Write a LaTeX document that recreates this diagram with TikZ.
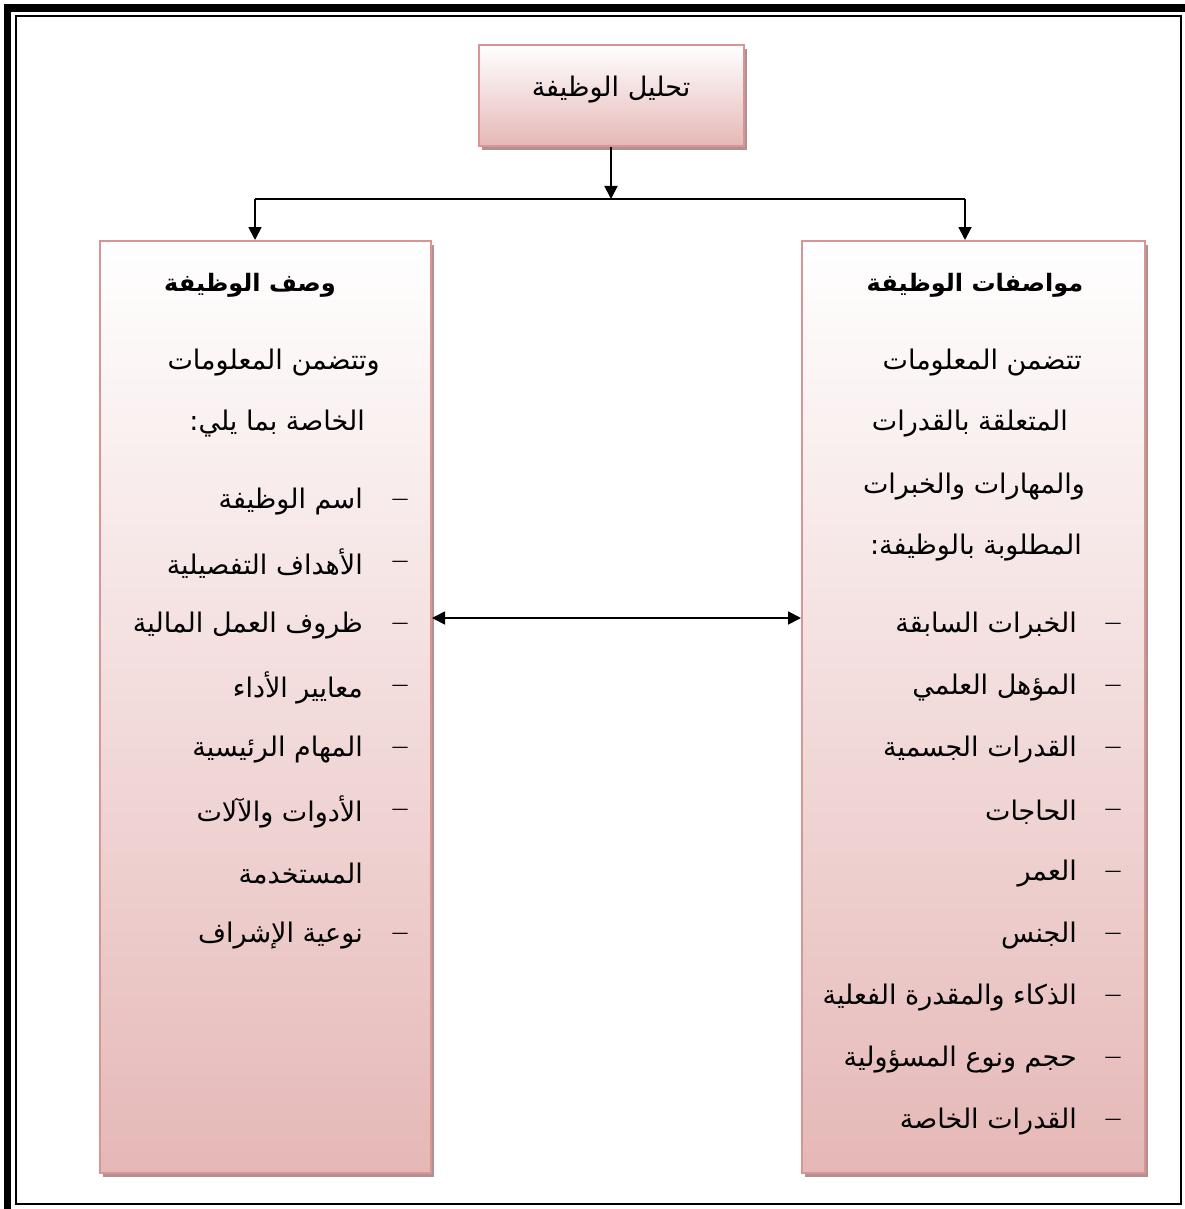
\documentclass[tikz,border=0pt]{standalone}
\usepackage{fontspec}
\TeXXeTstate=1
\newfontfamily\arabicfont[Script=Arabic]{DejaVu Sans}
\usetikzlibrary{arrows.meta,shadows}
\definecolor{pinkbot}{RGB}{229,184,183}
\definecolor{pinkline}{RGB}{217,149,148}
\definecolor{shadowcol}{RGB}{176,144,144}
\tikzset{
  box/.style={draw=pinkline, line width=2pt, top color=white, bottom color=pinkbot,
    inner sep=0pt, drop shadow={shadow xshift=3pt, shadow yshift=-4pt, fill=shadowcol, opacity=1}},
  conn/.style={line width=1.8pt, black},
  tip/.style={-{Triangle[width=13pt,length=13pt]}},
  txt/.style={font=\arabicfont\fontsize{27}{31}\selectfont, inner sep=0pt},
  ttl/.style={font=\arabicfont\bfseries\fontsize{24}{28}\selectfont, inner sep=0pt},
  dsh/.style={font=\arabicfont\fontsize{17}{20}\selectfont, inner sep=0pt}
}
\begin{document}
\begin{tikzpicture}[x=1pt,y=-1pt]
\useasboundingbox (0,0) rectangle (1184,1209);
\fill[white] (0,0) rectangle (1184,1209);
% page frame
\draw[line width=7.5pt] (7.5,8) rectangle (1300,1300);
\draw[line width=2pt] (16,16.5) rectangle (1180.5,1204);
% boxes
\node[box, minimum width=265pt, minimum height=101pt] (top) at (611,95.5) {};
\node[txt] (toptxt) at (611,90) {\beginR تحليل الوظيفة\endR};
\node[box, minimum width=331pt, minimum height=932pt] (lb) at (265.5,707) {};
\node[box, minimum width=343pt, minimum height=932pt] (rb) at (973.5,707) {};
% connectors
\coordinate (j) at (611,199);
\coordinate (jl) at (255,199);
\coordinate (jr) at (965,199);
\coordinate (m) at (616,618);
\draw[conn,tip] (top.south) -- (j);
\draw[conn] (jl) -- (jr);
\draw[conn,tip] (jl) -- (jl |- lb.north);
\draw[conn,tip] (jr) -- (jr |- rb.north);
\draw[conn,{Triangle[width=13pt,length=13pt]}-{Triangle[width=13pt,length=13pt]}] (lb.east |- m) -- (rb.west |- m);
% left box text
\node[ttl] (lt) at (250,285) {\beginR وصف الوظيفة\endR};
\node[txt, anchor=east] (l1) at (380,363) {\beginR وتتضمن المعلومات\endR};
\node[txt, anchor=east] (l2) at (365,424) {\beginR الخاصة بما يلي:\endR};
\node[txt, anchor=east] (l3) at (363,502) {\beginR اسم الوظيفة\endR};
\node[txt, anchor=east] (l4) at (363,564) {\beginR الأهداف التفصيلية\endR};
\node[txt, anchor=east] (l5) at (363,626) {\beginR ظروف العمل المالية\endR};
\node[txt, anchor=east] (l6) at (363,688) {\beginR معايير الأداء\endR};
\node[txt, anchor=east] (l7) at (363,750) {\beginR المهام الرئيسية\endR};
\node[txt, anchor=east] (l8) at (363,812) {\beginR الأدوات والآلات\endR};
\node[txt, anchor=east] (l9) at (363,874) {\beginR المستخدمة\endR};
\node[txt, anchor=east] (l10) at (363,936) {\beginR نوعية الإشراف\endR};
\foreach \y/\n in {502/a,564/b,626/c,688/d,750/e,812/f,936/g}
  \node[dsh] (ld\n) at (400,\y) {—};
% right box text
\node[ttl] (rt) at (975,285) {\beginR مواصفات الوظيفة\endR};
\node[txt, anchor=east] (r1) at (1082,363) {\beginR تتضمن المعلومات\endR};
\node[txt, anchor=east] (r2) at (1068,424) {\beginR المتعلقة بالقدرات\endR};
\node[txt, anchor=east] (r3) at (1085,487) {\beginR والمهارات والخبرات\endR};
\node[txt, anchor=east] (r4) at (1082,548) {\beginR المطلوبة بالوظيفة:\endR};
\node[txt, anchor=east] (r5) at (1077,626) {\beginR الخبرات السابقة\endR};
\node[txt, anchor=east] (r6) at (1077,688) {\beginR المؤهل العلمي\endR};
\node[txt, anchor=east] (r7) at (1077,750) {\beginR القدرات الجسمية\endR};
\node[txt, anchor=east] (r8) at (1077,812) {\beginR الحاجات\endR};
\node[txt, anchor=east] (r9) at (1077,874) {\beginR العمر\endR};
\node[txt, anchor=east] (r10) at (1077,936) {\beginR الجنس\endR};
\node[txt, anchor=east] (r11) at (1077,998) {\beginR الذكاء والمقدرة الفعلية\endR};
\node[txt, anchor=east] (r12) at (1077,1060) {\beginR حجم ونوع المسؤولية\endR};
\node[txt, anchor=east] (r13) at (1077,1122) {\beginR القدرات الخاصة\endR};
\foreach \y/\n in {626/a,688/b,750/c,812/d,874/e,936/f,998/g,1060/h,1122/i}
  \node[dsh] (rd\n) at (1113,\y) {—};
\end{tikzpicture}
\end{document}
